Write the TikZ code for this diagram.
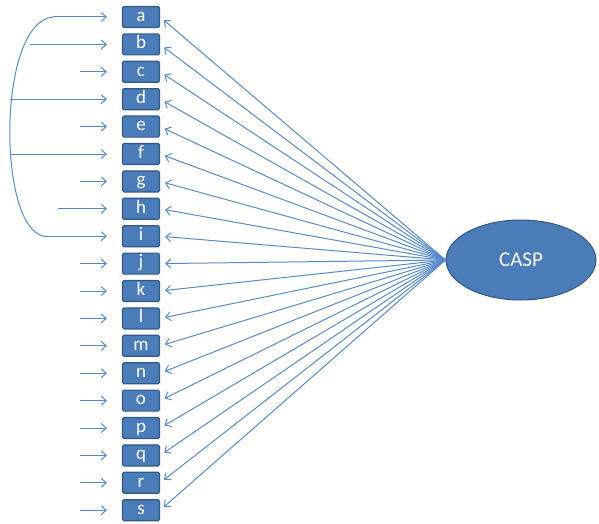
\documentclass[tikz,border=0pt]{standalone}
\usepackage{fontspec}
\setmainfont{Carlito}
\usetikzlibrary{arrows.meta,shapes.geometric}
\definecolor{boxfill}{RGB}{74,124,186}
\definecolor{boxline}{RGB}{52,88,132}
\definecolor{wire}{RGB}{88,138,202}
\begin{document}
\begin{tikzpicture}[x=1pt,y=-1pt,
  letterbox/.style={draw=boxline, fill=boxfill, line width=1.2pt, rounded corners=1.5pt,
    minimum width=37pt, minimum height=21pt, inner sep=0pt, text=white,
    font=\fontsize{19}{19}\selectfont, text height=12pt, text depth=3.5pt},
  factor/.style={ellipse, draw=boxline, fill=boxfill, line width=1pt,
    minimum width=150pt, minimum height=80pt, inner sep=0pt, text=white,
    font=\fontsize{21}{21}\selectfont},
  wire/.style={draw=wire, line width=1pt, -{Straight Barb[length=5pt,width=9pt]}}]
\useasboundingbox (0,0) rectangle (599,524);

% latent factor
\node[factor] (casp) at (521,260) {CASP};

% indicator boxes a..s
\foreach \n [count=\k from 0] in {a,b,c,d,e,f,g,h,i,j,k,l,m,n,o,p,q,r,s}
  \node[letterbox] (\n) at (141,{17+27.4*\k}) {\n};

% loadings from the factor to each indicator
\foreach \n in {a,b,c,d,e,f,g,h,i,j,k,l,m,n,o,p,q,r,s}
  \draw[wire, shorten >=5pt] (casp.west) -- (\n.east);

% short error arrows
\foreach \n in {c,e,g,j,k,l,m,n,o,p,q,r,s} {
  \coordinate (\n-err) at ([xshift=-42pt]\n.west);
  \draw[wire, shorten >=15pt] (\n-err) -- (\n.west);
}
\coordinate (h-err) at ([xshift=-64pt]h.west);
\draw[wire, shorten >=15pt] (h-err) -- (h.west);

% correlated errors bracket
\coordinate (a-err) at ([xshift=-69pt]a.west);
\coordinate (i-err) at ([xshift=-78pt]i.west);
\draw[draw=wire, line width=1pt] (a-err) .. controls (-3,22) and (-3,228) .. (i-err);
\draw[wire, shorten >=15pt] (a-err) -- (a.west);
\draw[wire, shorten >=15pt] (i-err) -- (i.west);
\coordinate (b-err) at ([xshift=-92pt]b.west);
\coordinate (d-err) at ([xshift=-112pt]d.west);
\coordinate (f-err) at ([xshift=-112pt]f.west);
\foreach \n in {b,d,f}
  \draw[wire, shorten >=15pt] (\n-err) -- (\n.west);
\end{tikzpicture}
\end{document}
